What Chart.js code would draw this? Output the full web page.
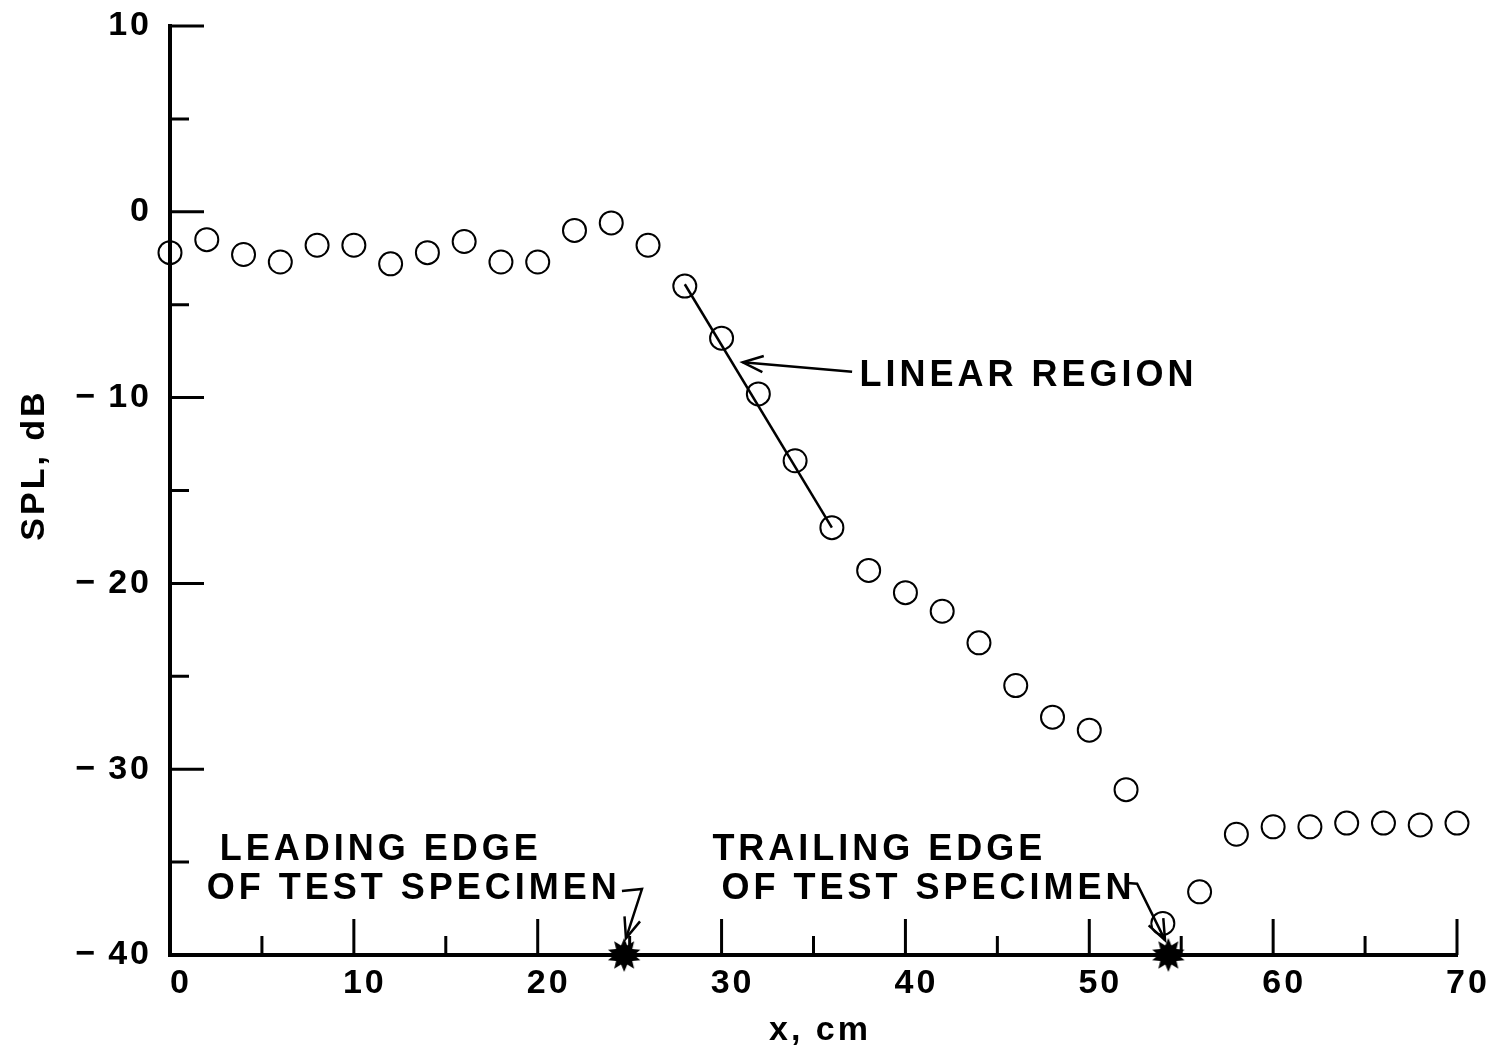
<!DOCTYPE html>
<html>
<head>
<meta charset="utf-8">
<title>SPL vs x</title>
<script src="https://cdn.jsdelivr.net/npm/chart.js"></script>
<style>
  html, body { margin: 0; padding: 0; background: #fff; }
  #wrap { width: 1491px; height: 1052px; position: relative; }
</style>
</head>
<body>
<div id="wrap"><canvas id="myChart"></canvas></div>
<script>
// measured points (circles)
var xCm = [0, 2, 4, 6, 8, 10, 12, 14, 16, 18, 20, 22, 24, 26, 28, 30, 32, 34,
           36, 38, 40, 42, 44, 46, 48, 50, 52, 54, 56, 58, 60, 62, 64, 66, 68, 70];
var splDb = [-2.2, -1.5, -2.3, -2.7, -1.8, -1.8, -2.8, -2.2, -1.6, -2.7, -2.7, -1.0,
             -0.6, -1.8, -4.0, -6.8, -9.8, -13.4, -17.0, -19.3, -20.5, -21.5, -23.2, -25.5,
             -27.2, -27.9, -31.1, -38.3, -36.6, -33.5, -33.1, -33.1, -32.9, -32.9, -33.0, -32.9];

// straight line through the linear region
var fitX = [28, 36];
var fitDb = [-3.9, -17.0];

// leading / trailing edge of the test specimen
var edgeX = [24.7, 54.3];
var edgeDb = [-40, -40];

// axis ticks
var xTickValues = [0, 10, 20, 30, 40, 50, 60, 70];
var yTickValues = [-40, -30, -20, -10, 0, 10];
var xMinorTicks = [5, 15, 25, 35, 45, 55, 65];
var yMinorTicks = [-35, -25, -15, -5, 5];

var FONT = '"Liberation Sans", Arial, Helvetica, sans-serif';

function pts(xs, ys) {
    return xs.map(function (v, i) { return { x: v, y: ys[i] }; });
}

function starCanvas(rOut, rIn, n) {
    var c = document.createElement('canvas');
    var s = Math.ceil(rOut * 2 + 2);
    c.width = s; c.height = s;
    var g = c.getContext('2d');
    g.fillStyle = '#000';
    g.beginPath();
    for (var i = 0; i < 2 * n; i++) {
        var r = i % 2 ? rIn : rOut;
        var a = Math.PI * i / n - Math.PI / 2;
        g.lineTo(s / 2 + r * Math.cos(a), s / 2 + r * Math.sin(a));
    }
    g.closePath();
    g.fill();
    return c;
}

function arrow(ctx, p) {
    ctx.beginPath();
    ctx.moveTo(p[0][0], p[0][1]);
    for (var i = 1; i < p.length; i++) ctx.lineTo(p[i][0], p[i][1]);
    ctx.stroke();
    var a = p[p.length - 2], b = p[p.length - 1];
    var ang = Math.atan2(a[1] - b[1], a[0] - b[0]);
    var len = 22, w = 0.38;
    ctx.beginPath();
    ctx.moveTo(b[0] + len * Math.cos(ang + w), b[1] + len * Math.sin(ang + w));
    ctx.lineTo(b[0], b[1]);
    ctx.lineTo(b[0] + len * Math.cos(ang - w), b[1] + len * Math.sin(ang - w));
    ctx.stroke();
}

// letter spacing for the tick labels
var spacing = {
    id: 'spacing',
    beforeDraw: function (chart) { chart.ctx.letterSpacing = '3px'; }
};

// inward tick marks
var tickMarks = {
    id: 'tickMarks',
    afterDraw: function (chart) {
        var ctx = chart.ctx, x = chart.scales.x, y = chart.scales.y, a = chart.chartArea;
        ctx.save();
        ctx.strokeStyle = '#000';
        ctx.lineWidth = 3;
        ctx.lineCap = 'butt';
        ctx.beginPath();
        xTickValues.concat(xMinorTicks).forEach(function (v) {
            if (v === 0) return;
            var px = x.getPixelForValue(v);
            var len = xTickValues.indexOf(v) >= 0 ? 36 : 19;
            ctx.moveTo(px, a.bottom);
            ctx.lineTo(px, a.bottom - len);
        });
        yTickValues.concat(yMinorTicks).forEach(function (v) {
            if (v === -40) return;
            var py = y.getPixelForValue(v);
            var len = yTickValues.indexOf(v) >= 0 ? 34 : 19;
            ctx.moveTo(a.left, py);
            ctx.lineTo(a.left + len, py);
        });
        ctx.stroke();
        ctx.restore();
    }
};

// axis titles, notes and arrows
var notes = {
    id: 'notes',
    afterDraw: function (chart) {
        var ctx = chart.ctx, x = chart.scales.x, y = chart.scales.y;
        function P(vx, vy) { return [x.getPixelForValue(vx), y.getPixelForValue(vy)]; }
        ctx.save();
        ctx.fillStyle = '#000';
        ctx.strokeStyle = '#000';
        ctx.letterSpacing = '4px';
        ctx.font = 'bold 36px ' + FONT;
        ctx.textAlign = 'left';
        ctx.textBaseline = 'alphabetic';

        var t = P(37.5, -9.38);
        ctx.fillText('LINEAR REGION', t[0], t[1]);
        t = P(2.7, -34.9);
        ctx.fillText('LEADING EDGE', t[0], t[1]);
        t = P(2.0, -37.0);
        ctx.fillText('OF TEST SPECIMEN', t[0], t[1]);
        t = P(29.5, -34.9);
        ctx.fillText('TRAILING EDGE', t[0], t[1]);
        t = P(30.0, -37.0);
        ctx.fillText('OF TEST SPECIMEN', t[0], t[1]);

        ctx.lineWidth = 2.5;
        ctx.lineJoin = 'miter';
        arrow(ctx, [P(37.1, -8.61), P(31.15, -8.1)]);
        arrow(ctx, [P(24.58, -36.56), P(25.67, -36.45), P(24.8, -39.1)]);
        arrow(ctx, [P(52.05, -36.12), P(52.6, -36.16), P(54.12, -39.2)]);

        // axis titles
        ctx.font = 'bold 34px ' + FONT;
        ctx.letterSpacing = '3px';
        ctx.textAlign = 'center';
        ctx.fillText('x, cm', 820, 1040);
        ctx.translate(35, 465);
        ctx.rotate(-Math.PI / 2);
        ctx.textBaseline = 'middle';
        ctx.fillText('SPL, dB', 0, 0);
        ctx.restore();
    }
};

var ctx = document.getElementById('myChart').getContext('2d');

var chart = new Chart(ctx, {
    type: 'scatter',
    data: {
        datasets: [{
            label: 'SPL',
            data: pts(xCm, splDb),
            pointStyle: 'circle',
            pointRadius: 11.5,
            pointBorderWidth: 2,
            pointBorderColor: '#000',
            pointBackgroundColor: 'rgba(0,0,0,0)',
            showLine: false,
            clip: false
        }, {
            label: 'linear region',
            data: pts(fitX, fitDb),
            showLine: true,
            borderColor: '#000',
            borderWidth: 2.5,
            pointRadius: 0,
            clip: false
        }, {
            label: 'edges',
            data: pts(edgeX, edgeDb),
            pointStyle: starCanvas(17, 10, 10),
            pointRadius: 17,
            showLine: false,
            clip: false
        }]
    },
    options: {
        responsive: true,
        maintainAspectRatio: false,
        animation: false,
        events: [],
        layout: { padding: { top: 26, right: 34, left: 0, bottom: 0 } },
        plugins: {
            legend: { display: false },
            tooltip: { enabled: false }
        },
        scales: {
            x: {
                type: 'linear',
                min: 0,
                max: 70,
                afterBuildTicks: function (s) { s.ticks = xTickValues.map(function (v) { return { value: v }; }); },
                afterFit: function (s) { s.height = 97; },
                grid: { display: false, drawTicks: false },
                border: { display: true, color: '#000', width: 4 },
                ticks: {
                    color: '#000',
                    padding: 8,
                    labelOffset: 11,
                    maxRotation: 0,
                    autoSkip: false,
                    font: { family: FONT, size: 34, weight: 'bold' }
                }
            },
            y: {
                type: 'linear',
                min: -40,
                max: 10,
                afterBuildTicks: function (s) { s.ticks = yTickValues.map(function (v) { return { value: v }; }); },
                afterFit: function (s) { s.width = 170; s.paddingTop = 0; s.paddingBottom = 0; },
                grid: { display: false, drawTicks: false },
                border: { display: true, color: '#000', width: 4 },
                ticks: {
                    color: '#000',
                    padding: 18,
                    autoSkip: false,
                    font: { family: FONT, size: 34, weight: 'bold' },
                    callback: function (v) { return v < 0 ? '\u2212\u2009' + Math.abs(v) : String(v); }
                }
            }
        }
    },
    plugins: [spacing, tickMarks, notes]
});
</script>
</body>
</html>
